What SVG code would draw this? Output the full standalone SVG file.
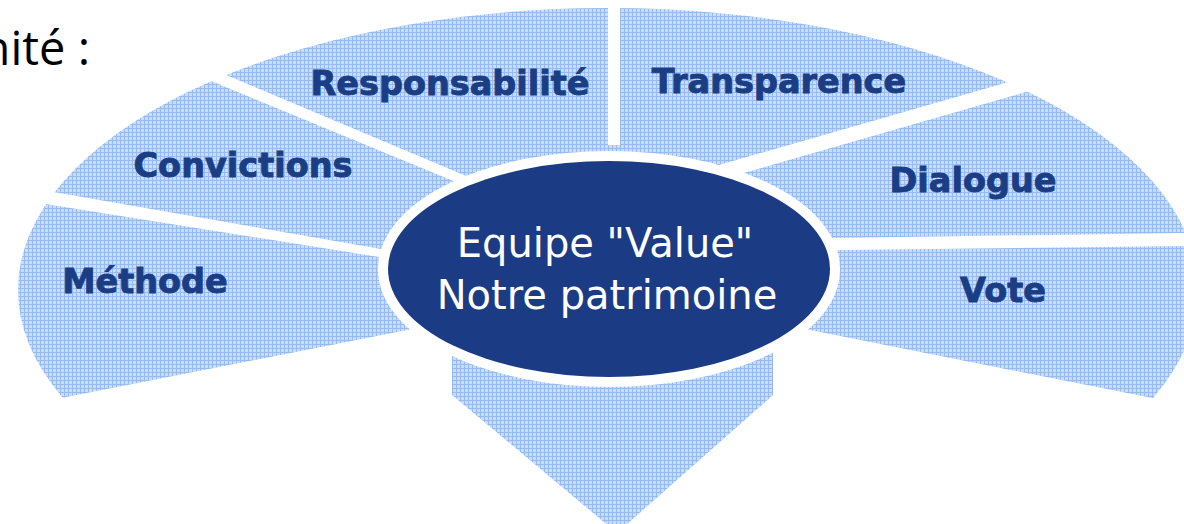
<svg xmlns="http://www.w3.org/2000/svg" width="1184" height="524" viewBox="0 0 1184 524">
<style>
.seg{fill:url(#grid)}
.lbl{font-family:"DejaVu Sans","Liberation Sans",sans-serif;font-weight:bold;font-size:33.5px;fill:#1b3d84;stroke:#1b3d84;stroke-width:0.9px;text-anchor:middle}
.ctr{font-family:"DejaVu Sans","Liberation Sans",sans-serif;font-size:40px;fill:#ffffff;text-anchor:middle}
.hdr{font-family:"Open Sans","DejaVu Sans",sans-serif;font-size:47px;fill:#000000;text-anchor:end}
</style>
<defs>
<pattern id="grid" width="4" height="4" patternUnits="userSpaceOnUse">
<rect width="4" height="4" fill="#c8dcfb"/>
<rect width="4" height="1" fill="#96bbf4"/>
<rect width="1" height="4" fill="#96bbf4"/>
</pattern>
<clipPath id="fan"><ellipse cx="608" cy="290" rx="590" ry="282"/></clipPath>
</defs>
<rect width="1184" height="524" fill="#ffffff"/>
<text class="hdr" x="90" y="65">nité :</text>

<g id="methode">
<path class="seg" clip-path="url(#fan)" d="M-100,180.7 L420,263.5 L430,325.6 L-100,429.6 Z"/>
<text class="lbl" x="145" y="293">Méthode</text>
</g>
<g id="convictions">
<path class="seg" clip-path="url(#fan)" d="M-100,-47.3 L480,192 L410,254.1 L-100,165.2 Z"/>
<text class="lbl" x="243" y="177">Convictions</text>
</g>
<g id="responsabilite">
<path class="seg" clip-path="url(#fan)" d="M-100,-62.1 L608,-62.1 L608,200 L500,190.2 Z"/>
<text class="lbl" x="450" y="95">Responsabilité</text>
</g>
<g id="transparence">
<path class="seg" clip-path="url(#fan)" d="M620,-62 L1300,-62 L1300,-1.5 L680,176.2 L608,200 L608,145 L620,145 Z"/>
<text class="lbl" x="779" y="93">Transparence</text>
</g>
<g id="dialogue">
<path class="seg" clip-path="url(#fan)" d="M1300,13.2 L720,179.8 L800,238.45 L1300,231.35 Z"/>
<text class="lbl" x="973" y="192">Dialogue</text>
</g>
<g id="vote">
<path class="seg" clip-path="url(#fan)" d="M1300,244.7 L800,250.4 L790,326.1 L1300,427.4 Z"/>
<text class="lbl" x="1003" y="302">Vote</text>
</g>
<g id="arrow">
<path class="seg" d="M452,300 L773,300 L773,395 L617,533 L452,395 Z"/>
</g>
<g id="centre">
<ellipse cx="609" cy="269" rx="221" ry="108" fill="#1b3c84" stroke="#ffffff" stroke-width="20" paint-order="stroke"/>
<text class="ctr" x="605" y="257">Equipe "Value"</text>
<text class="ctr" x="607" y="309">Notre patrimoine</text>
</g>
</svg>
